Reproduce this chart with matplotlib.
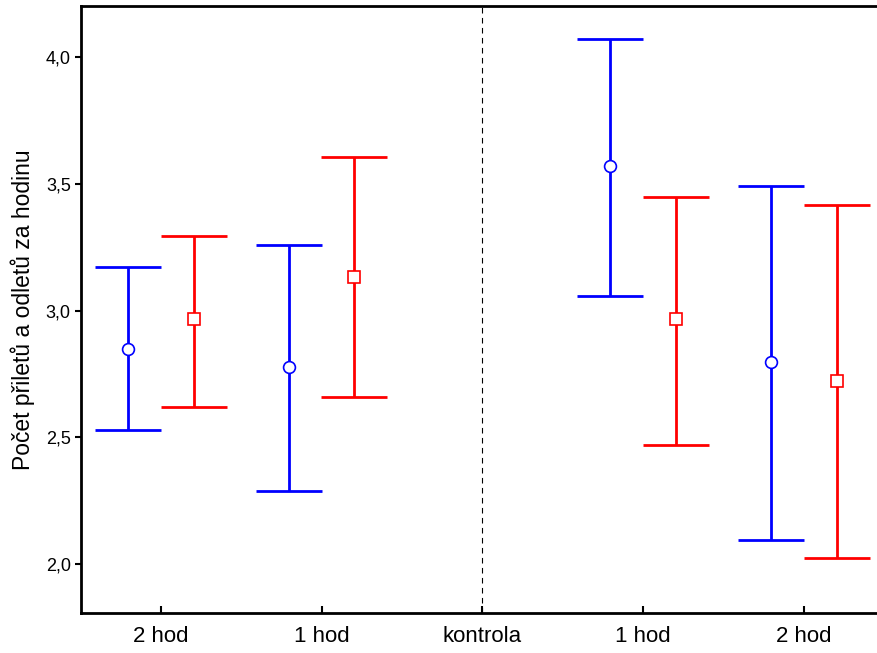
import matplotlib
matplotlib.use("Agg")
import matplotlib.pyplot as plt
from matplotlib.ticker import FuncFormatter

plt.rcParams['font.family'] = ['Liberation Sans', 'DejaVu Sans']

# kategorie na ose x (kontrola bez dat)
kategorie = ['2 hod', '1 hod', 'kontrola', '1 hod', '2 hod']
pozice = [1, 2, 4, 5]

# modra serie (kruhy)
modra_prumer = [2.85, 2.779, 3.571, 2.797]
modra_horni = [3.17, 3.257, 4.071, 3.492]
modra_dolni = [2.53, 2.289, 3.059, 2.095]

# cervena serie (ctverce)
cervena_prumer = [2.965, 3.134, 2.965, 2.722]
cervena_horni = [3.292, 3.604, 3.446, 3.418]
cervena_dolni = [2.621, 2.657, 2.47, 2.024]

posun = 0.205

fig = plt.figure(figsize=(8.77, 6.53), dpi=100)
ax = fig.add_axes([80.5 / 877, 40 / 653, 803.5 / 877, 607 / 653])


def kresli(x, prumer, horni, dolni, barva, znacka):
    for xi, m, h, d in zip(x, prumer, horni, dolni):
        ax.errorbar([xi], [m], yerr=[[m - d], [h - m]], fmt='none',
                    ecolor=barva, elinewidth=2, capsize=23.5, capthick=2, zorder=2)
    ax.plot(x, prumer, linestyle='none', marker=znacka, markersize=8.5,
            markerfacecolor='white', markeredgecolor=barva, markeredgewidth=1.2, zorder=3)


kresli([p - posun for p in pozice], modra_prumer, modra_horni, modra_dolni, '#0000ff', 'o')
kresli([p + posun for p in pozice], cervena_prumer, cervena_horni, cervena_dolni, '#ff0000', 's')

ax.axvline(3, color='black', linestyle=(0, (5, 4)), linewidth=0.8, zorder=1)

ax.set_xlim(0.5, 5.5)
ax.set_ylim(1.807, 4.201)
ax.set_xticks(range(1, 6))
ax.set_xticklabels(kategorie)
ax.set_yticks([2.0, 2.5, 3.0, 3.5, 4.0])
ax.yaxis.set_major_formatter(FuncFormatter(lambda v, p: f'{v:.1f}'.replace('.', ',')))

ax.tick_params(axis='x', direction='in', length=5, width=1.5, labelsize=16, pad=9)
ax.tick_params(axis='y', direction='out', length=4, width=1.5, labelsize=13, pad=3)
for s in ax.spines.values():
    s.set_linewidth(2)

ax.set_ylabel('Počet přiletů a odletů za hodinu', fontsize=16.5, labelpad=8)

fig.savefig('out.png', dpi=100)
